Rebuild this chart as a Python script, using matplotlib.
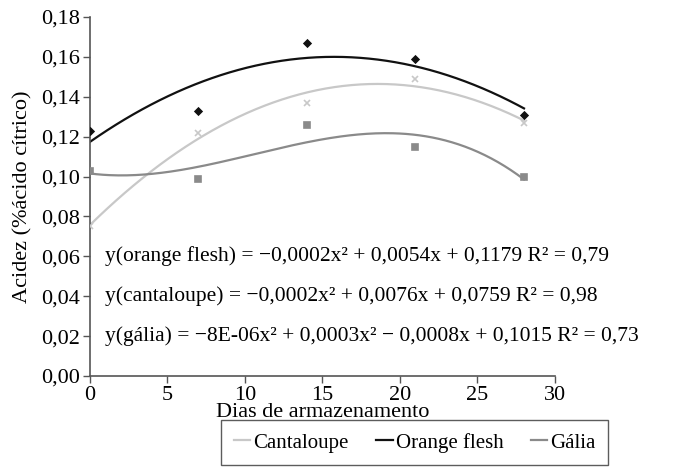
import matplotlib
matplotlib.use("Agg")
import matplotlib.pyplot as plt
import numpy as np
from matplotlib.lines import Line2D
from matplotlib.ticker import FuncFormatter

plt.rcParams["font.family"] = ["Liberation Serif", "DejaVu Serif"]

days = [0, 7, 14, 21, 28]
orange_flesh = [0.123, 0.133, 0.167, 0.159, 0.131]
cantaloupe = [0.075, 0.122, 0.137, 0.149, 0.127]
galia = [0.103, 0.099, 0.126, 0.115, 0.100]

equations = [
    "y(orange flesh) = \u22120,0002x\u00b2 + 0,0054x + 0,1179 R\u00b2 = 0,79",
    "y(cantaloupe) = \u22120,0002x\u00b2 + 0,0076x + 0,0759 R\u00b2 = 0,98",
    "y(gália) = \u22128E-06x\u00b2 + 0,0003x\u00b2 \u2212 0,0008x + 0,1015 R\u00b2 = 0,73",
]

c_orange = "#111111"
c_cant = "#c8c8c8"
c_galia = "#8a8a8a"

fig = plt.figure(figsize=(6.81, 4.70), dpi=100)
ax = fig.add_axes([0.132, 0.2, 0.683, 0.764])

xs = np.linspace(0, 28, 200)
series = [
    (cantaloupe, c_cant, "x", 2, 5, "Cantaloupe"),
    (galia, c_galia, "s", 3, 4.5, "Gália"),
    (orange_flesh, c_orange, "D", 2, 3.5, "Orange flesh"),
]
for vals, col, mk, deg, ms, name in series:
    coef = np.polyfit(days, vals, deg)
    ax.plot(xs, np.polyval(coef, xs), color=col, lw=1.6, zorder=2)
    ax.plot(days, vals, linestyle="none", marker=mk, color=col, ms=ms,
            mew=1.2, zorder=3)

ax.set_xlim(0, 30)
ax.set_ylim(0, 0.18)
ax.set_xticks(range(0, 31, 5))
ax.set_yticks(np.arange(0, 0.181, 0.02))
ax.yaxis.set_major_formatter(FuncFormatter(lambda v, p: f"{v:.2f}".replace(".", ",")))
ax.tick_params(labelsize=16, length=5, color="#555555", width=1, pad=2)
for s in ["top", "right"]:
    ax.spines[s].set_visible(False)
for s in ["left", "bottom"]:
    ax.spines[s].set_color("#555555")
    ax.spines[s].set_linewidth(1.2)

ax.set_xlabel("Dias de armazenamento", fontsize=16, labelpad=-1)
ax.set_ylabel("Acidez (%ácido cítrico)", fontsize=16, labelpad=6)

for i, eq in enumerate(equations):
    ax.text(0.97, 0.0602 - i * 0.02, eq, fontsize=15.5, va="center", ha="left")

handles = [
    Line2D([], [], color=c_cant, lw=1.6),
    Line2D([], [], color=c_orange, lw=1.6),
    Line2D([], [], color=c_galia, lw=1.6),
]
leg = fig.legend(handles, ["Cantaloupe", "Orange flesh", "Gália"],
                 loc="upper center", bbox_to_anchor=(0.609, 0.106), ncol=3,
                 fontsize=15, frameon=True, fancybox=False, handlelength=0.8,
                 handletextpad=0.15, columnspacing=1.3, borderpad=0.6,
                 borderaxespad=0)
leg.get_frame().set_edgecolor("#333333")
leg.get_frame().set_linewidth(1.0)

fig.savefig("out.png", dpi=100)
